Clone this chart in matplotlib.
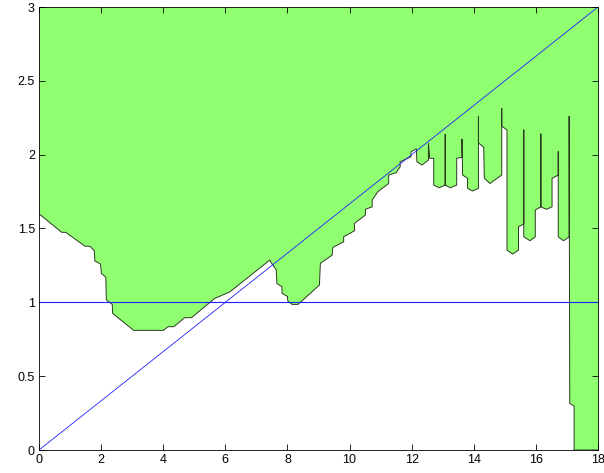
import matplotlib
matplotlib.use("Agg")
import matplotlib.pyplot as plt

plt.rcParams['font.family'] = ['Liberation Sans', 'DejaVu Sans']

# boundary of the green region (region lies above this curve, up to y=3)
edge_x = [0.00, 0.73, 0.86, 1.48, 1.64, 1.78, 1.80, 1.98, 2.01, 2.15, 2.17, 2.36, 2.37,
          3.05, 4.00, 4.16, 4.34, 4.69, 4.91, 5.66, 6.14, 7.43, 7.48, 7.64, 7.66, 7.82,
          7.83, 8.00, 8.01, 8.15, 8.34, 9.03, 9.06, 9.44, 9.46, 9.81, 9.81, 10.16, 10.16,
          10.51, 10.51, 10.73, 10.73, 10.91, 11.26, 11.26, 11.50, 11.63, 11.63, 11.98,
          11.98, 12.15, 12.17, 12.33, 12.54, 12.54, 12.58, 12.71, 12.71, 12.89, 13.08,
          13.08, 13.08, 13.25, 13.45, 13.45, 13.62, 13.62, 13.64, 13.80, 13.80, 13.96,
          14.15, 14.15, 14.15, 14.32, 14.34, 14.52, 14.90, 14.90, 14.90, 15.07, 15.07,
          15.25, 15.44, 15.44, 15.61, 15.61, 15.61, 15.81, 15.98, 15.98, 16.16, 16.16,
          16.16, 16.34, 16.52, 16.52, 16.72, 16.72, 16.72, 16.89, 17.07, 17.07, 17.09,
          17.23, 17.23, 18.00]
edge_y = [1.60, 1.474, 1.474, 1.38, 1.38, 1.35, 1.28, 1.26, 1.196, 1.17, 1.016, 0.986, 0.925,
          0.81, 0.81, 0.835, 0.835, 0.896, 0.896, 1.027, 1.07, 1.286, 1.268, 1.22, 1.128, 1.106,
          1.06, 1.04, 1.009, 0.986, 0.986, 1.117, 1.264, 1.32, 1.372, 1.41, 1.444, 1.485, 1.535,
          1.591, 1.63, 1.647, 1.693, 1.749, 1.805, 1.862, 1.878, 1.918, 1.952, 1.986,
          2.02, 2.04, 1.952, 1.93, 1.963, 2.076, 1.975, 1.975, 1.794, 1.776, 1.794,
          2.137, 1.794, 1.776, 1.794, 1.975, 1.982, 2.106, 1.862, 1.84, 1.772, 1.754,
          1.772, 2.26, 2.08, 2.05, 1.84, 1.805, 1.862, 2.313, 2.193, 2.167, 1.354,
          1.327, 1.354, 1.512, 1.530, 2.167, 1.444, 1.417, 1.444, 1.625, 1.647, 2.14,
          1.647, 1.63, 1.647, 1.84, 1.862, 2.02, 1.444, 1.417, 1.444, 2.26, 0.316,
          0.298, 0.0, 0.0]

# reference lines
diag_x = [0, 18]
diag_y = [0, 3]
level_x = [0, 18]
level_y = [1, 1]

xticks = [0, 2, 4, 6, 8, 10, 12, 14, 16, 18]
yticks = [0, 0.5, 1, 1.5, 2, 2.5, 3]
ytick_labels = ["0", "0.5", "1", "1.5", "2", "2.5", "3"]

fig = plt.figure(figsize=(6.04, 4.73), dpi=100)
ax = fig.add_axes([39 / 604, 23 / 473, 559 / 604, 443 / 473])

ax.fill_between(edge_x, edge_y, 3, facecolor="#90ff70", edgecolor="none")
ax.plot(edge_x, edge_y, color="#2a3a20", lw=0.7)
ax.plot(diag_x, diag_y, color="#2020ff", lw=0.6)
ax.plot(level_x, level_y, color="#2020ff", lw=0.8)

ax.set_xlim(0, 18)
ax.set_ylim(0, 3)
ax.set_xticks(xticks)
ax.set_yticks(yticks)
ax.set_yticklabels(ytick_labels)
ax.tick_params(direction="in", length=4, width=0.6, labelsize=9,
               top=True, right=True, pad=3)
for s in ax.spines.values():
    s.set_linewidth(0.6)

fig.savefig("out.png", dpi=100)
